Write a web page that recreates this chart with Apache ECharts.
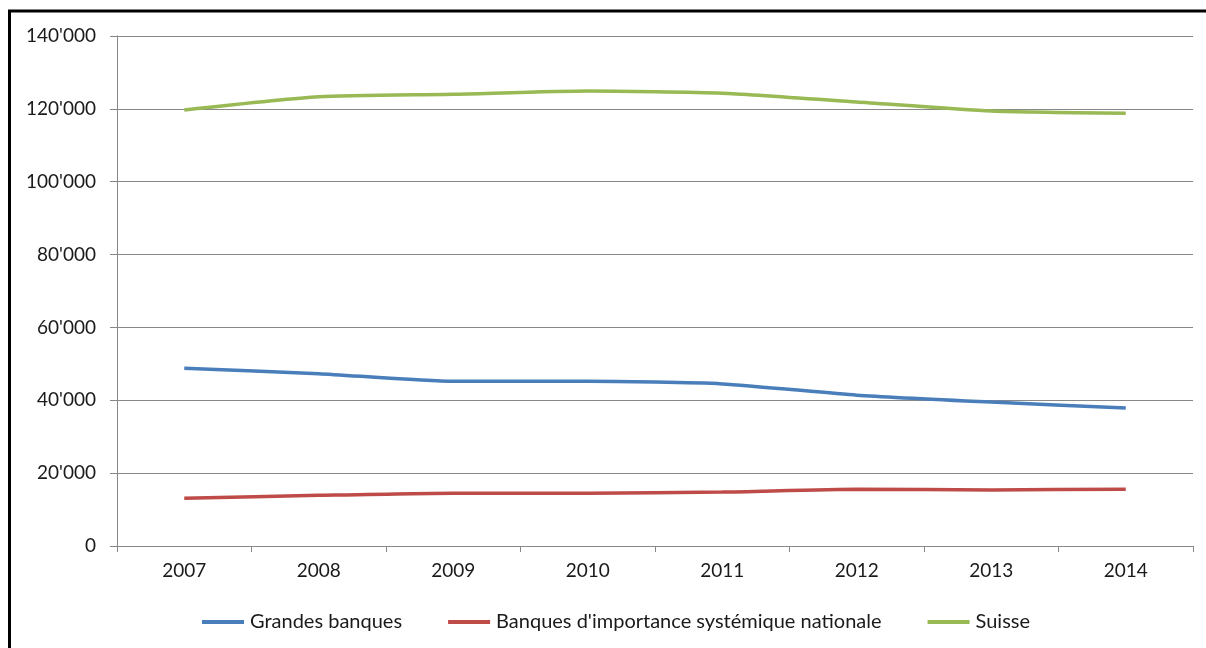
<!DOCTYPE html>
<html>
<head>
<meta charset="utf-8">
<script src="https://cdn.jsdelivr.net/npm/echarts@6/dist/echarts.min.js"></script>
<style>
    html, body { margin: 0; padding: 0; background: #fff; }
    #chart { width: 1206px; height: 648px; }
</style>
</head>
<body>
<div id="chart"></div>
<script>
// données
const years = ['2007', '2008', '2009', '2010', '2011', '2012', '2013', '2014'];
const grandesBanques = [48800, 47300, 45200, 45200, 44500, 41400, 39500, 37900];
const banquesSystemiques = [13100, 13900, 14500, 14500, 14800, 15600, 15400, 15600];
const suisse = [119700, 123300, 124000, 124900, 124300, 121900, 119400, 118800];

const seriesNames = ['Grandes banques', "Banques d'importance systémique nationale", 'Suisse'];
const seriesColors = ['#4A7EBB', '#BE4B48', '#98B954'];

const fontFamily = 'Lato, "Noto Sans", sans-serif';

function formatThousands(v) {
    return String(v).replace(/\B(?=(\d{3})+(?!\d))/g, "'");
}

function makeSeries(name, data, color) {
    return {
        name: name,
        type: 'line',
        data: data,
        smooth: 0.2,
        symbol: 'none',
        lineStyle: { color: color, width: 3.5 },
        itemStyle: { color: color }
    };
}

const chart = echarts.init(document.getElementById('chart'));

chart.setOption({
    animation: false,
    backgroundColor: '#fff',
    textStyle: { fontFamily: fontFamily },
    grid: {
        left: 117,
        right: 13,
        top: 36,
        bottom: 102
    },
    legend: {
        data: seriesNames,
        top: 607,
        left: 197,
        icon: 'rect',
        itemWidth: 42,
        itemHeight: 4,
        itemGap: 46,
        textStyle: {
            color: '#1a1a1a',
            fontSize: 20,
            fontFamily: fontFamily,
            padding: [0, 0, 0, 1]
        }
    },
    xAxis: {
        type: 'category',
        data: years,
        boundaryGap: true,
        axisLine: { lineStyle: { color: '#888', width: 1 } },
        axisTick: { show: true, interval: 0, length: 6, lineStyle: { color: '#888' } },
        axisLabel: {
            color: '#1a1a1a',
            fontSize: 19,
            margin: 15
        }
    },
    yAxis: {
        type: 'value',
        min: 0,
        max: 140000,
        interval: 20000,
        axisLine: { show: true, lineStyle: { color: '#888', width: 1 } },
        axisTick: { show: true, length: 7, lineStyle: { color: '#888' } },
        axisLabel: {
            color: '#1a1a1a',
            fontSize: 19,
            margin: 21,
            formatter: formatThousands
        },
        splitLine: { lineStyle: { color: '#888', width: 1 } }
    },
    graphic: [
        {
            type: 'line',
            shape: { x1: 9.5, y1: 11, x2: 9.5, y2: 648 },
            style: { stroke: '#000', lineWidth: 3 }
        },
        {
            type: 'line',
            shape: { x1: 8, y1: 11, x2: 1206, y2: 11 },
            style: { stroke: '#000', lineWidth: 3 }
        }
    ],
    series: [
        makeSeries(seriesNames[0], grandesBanques, seriesColors[0]),
        makeSeries(seriesNames[1], banquesSystemiques, seriesColors[1]),
        makeSeries(seriesNames[2], suisse, seriesColors[2])
    ]
});
</script>
</body>
</html>
